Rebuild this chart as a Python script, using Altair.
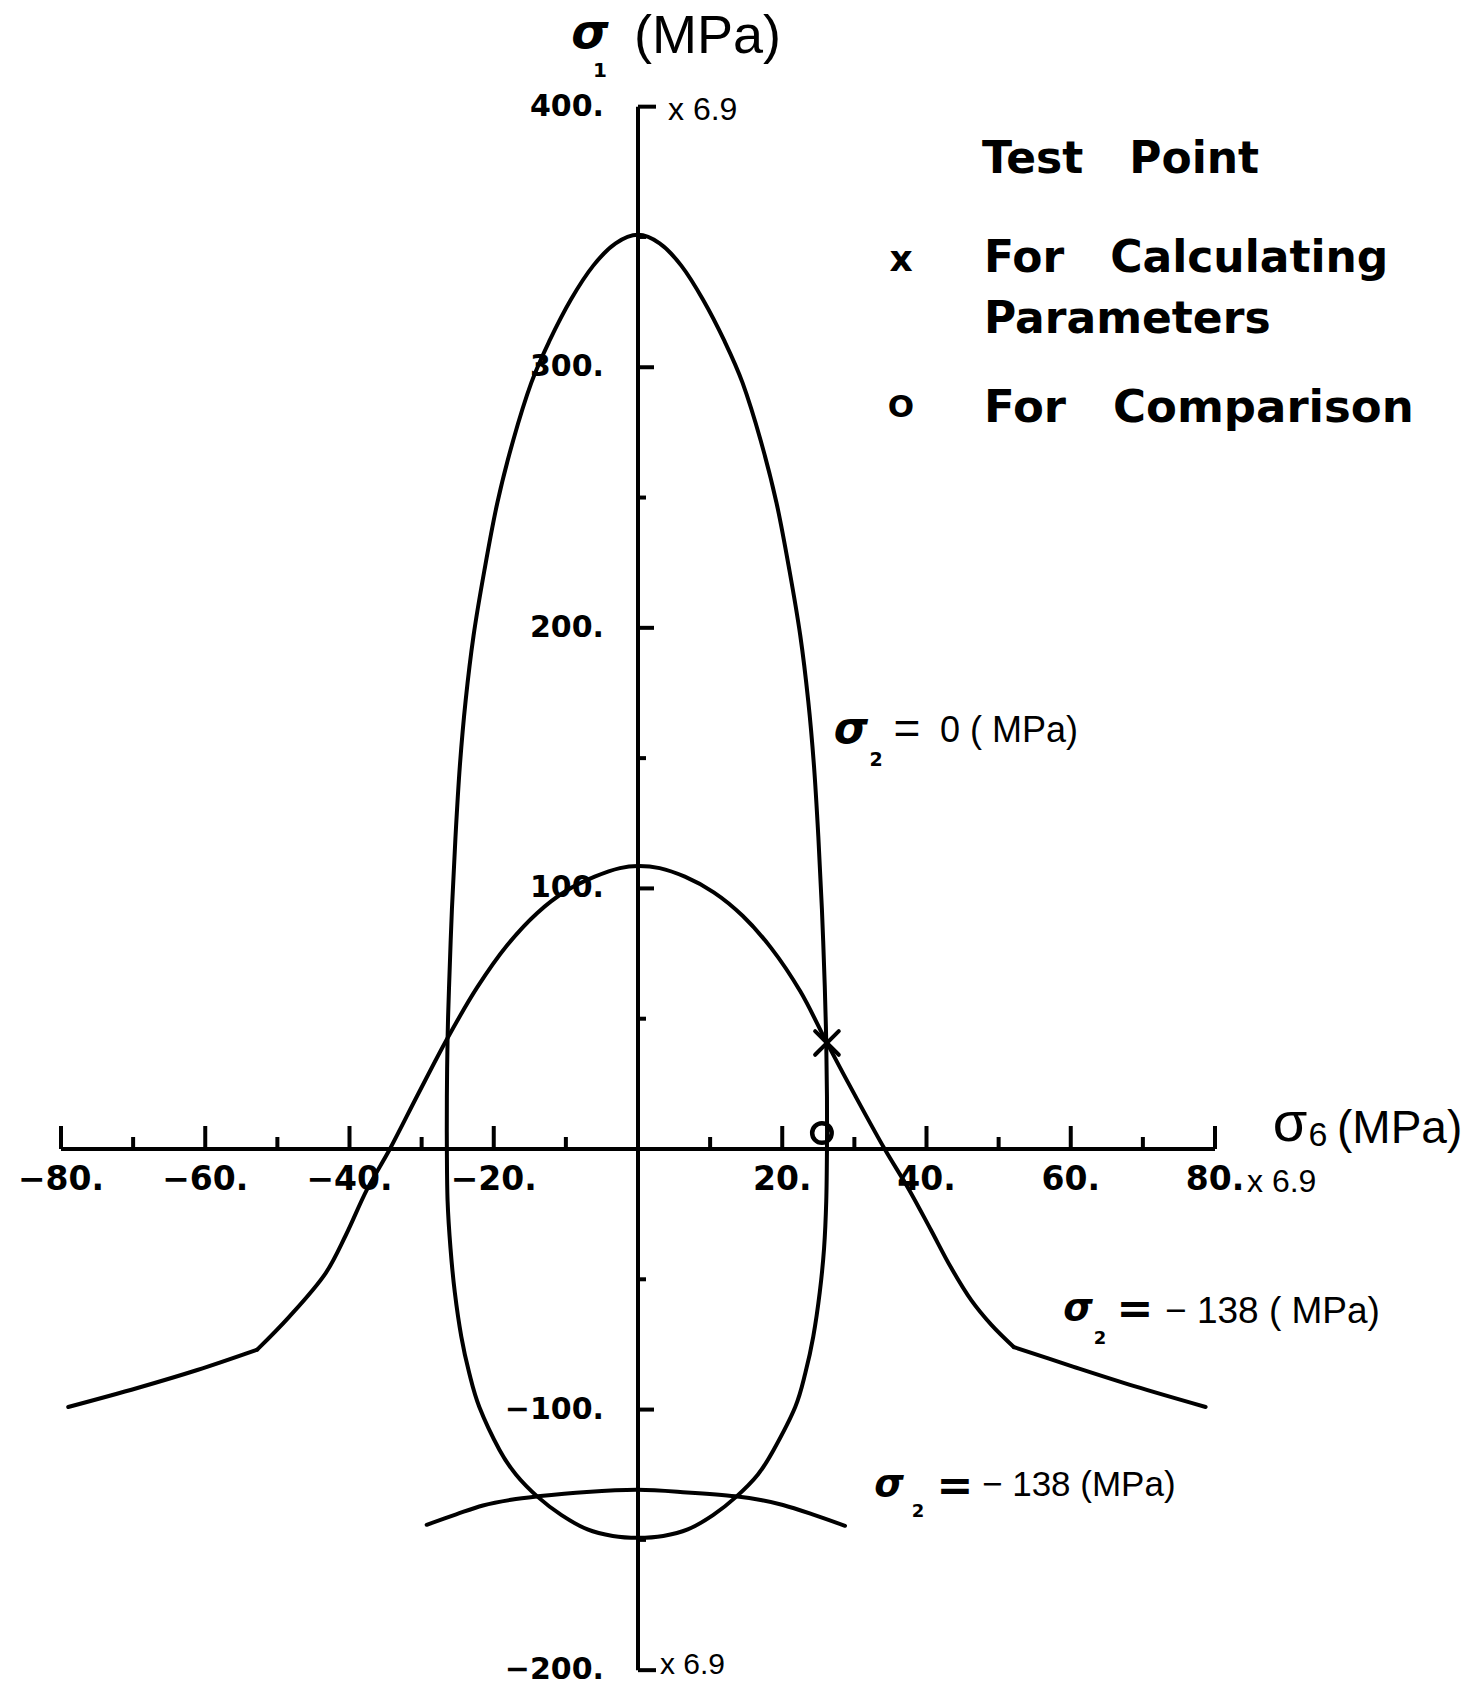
import altair as alt
import pandas as pd

# ---------------------------------------------------------------------------
# Data (stresses in units of 6.9 MPa)
# ---------------------------------------------------------------------------

# sigma_2 = 0 MPa envelope: one closed loop, clockwise from the top peak
loop0_x = [0.0, 3.0, 6.0, 9.0, 12.0, 14.5, 17.0, 19.2, 21.0, 22.5, 23.6, 24.4,
           25.0, 25.5, 25.9, 26.1, 26.2, 26.2,
           26.1, 25.8, 25.2, 24.3, 23.2, 21.8, 18.8, 16.6, 13.6, 10.4, 6.9, 3.5,
           0.0,
           -3.5, -7.0, -10.6, -13.9, -16.9, -19.2, -22.0, -23.4, -24.5, -25.4,
           -26.0, -26.4, -26.5,
           -26.5, -26.4, -26.2, -25.8, -25.3, -24.7, -23.9, -22.8, -21.3, -19.5,
           -17.3, -14.8, -12.3, -9.3, -6.2, -3.1]
loop0_y = [350.8, 347.5, 339.0, 326.0, 310.0, 294.0, 272.0, 248.0, 222.0, 197.0,
           172.0, 147.0, 120.0, 92.0, 62.0, 40.7, 20.0, 0.0,
           -20.0, -38.0, -55.0, -72.0, -86.0, -99.0, -115.5, -125.0, -133.5,
           -140.5, -146.0, -148.5,
           -149.2,
           -148.5, -146.0, -140.5, -133.5, -125.0, -115.5, -99.0, -86.0, -72.0,
           -55.0, -38.0, -20.0, 0.0,
           20.0, 42.6, 62.0, 92.0, 120.0, 147.0, 172.0, 197.0, 222.0, 248.0,
           272.0, 294.0, 310.0, 326.0, 339.0, 347.5]

# sigma_2 = -138 MPa envelope, upper branch: left tail, bell, right tail
tail_left_x = [-79.0, -69.4, -61.1, -52.8]
tail_left_y = [-99.0, -91.7, -84.8, -77.0]
bell_x = [-52.8, -48.4, -43.3, -40.5, -37.6, -34.4, -30.5, -26.4, -22.3, -18.2,
          -14.0, -10.0, -6.0, -2.5, 0.0, 3.0, 6.5, 10.5, 14.5, 18.5, 22.5, 26.2,
          30.2, 34.2, 37.6, 40.6, 43.4, 46.2, 49.0, 52.1]
bell_y = [-77.0, -64.5, -47.6, -33.0, -15.7, 0.0, 21.0, 42.6, 62.0, 78.0,
          90.5, 99.0, 104.5, 107.8, 108.6, 107.8, 104.5, 98.5, 89.5, 77.0, 60.5,
          40.7, 20.0, 0.0, -15.7, -31.0, -45.5, -58.0, -67.5, -76.0]
tail_right_x = [52.1, 60.3, 68.8, 78.7]
tail_right_y = [-76.0, -83.5, -91.0, -99.0]

# sigma_2 = -138 MPa envelope, lower branch
arc_x = [-29.3, -25.2, -21.5, -17.6, -13.9, -7.1, 0.0, 6.8, 13.5, 17.2, 20.1,
         24.4, 28.7]
arc_y = [-144.2, -140.2, -136.8, -134.6, -133.3, -131.6, -130.8, -131.8, -133.3,
         -134.8, -136.6, -140.4, -144.6]

# test points
calc_point = {"x": [26.2], "y": [40.7]}   # used for calculating parameters
comp_point = {"x": [25.5], "y": [6.1]}    # used for comparison

# axis ticks and labels
x_tick_values = [-80, -70, -60, -50, -40, -30, -20, -10, 10, 20, 30, 40, 50, 60, 70, 80]
x_label_values = [-80, -60, -40, -20, 20, 40, 60, 80]
x_label_text = ["\u221280.", "\u221260.", "\u221240.", "\u221220.", "20.", "40.", "60.", "80."]
y_tick_values = [350, 300, 250, 200, 150, 100, 50, -50, -100, -150]
y_label_values = [400, 300, 200, 100, -100, -200]
y_label_text = ["400.", "300.", "200.", "100.", "\u2212100.", "\u2212200."]

# ---------------------------------------------------------------------------
# Layout: the plot area fills the page; the axes cross at the origin
# ---------------------------------------------------------------------------
W, H = 1480, 1686
ORIGIN_PX = (638.0, 1149.0)
PX_PER_X = 1154.0 / 160.0
PX_PER_Y = 1563.5 / 600.0
x_dom = [-ORIGIN_PX[0] / PX_PER_X, (W - ORIGIN_PX[0]) / PX_PER_X]
y_dom = [-(H - ORIGIN_PX[1]) / PX_PER_Y, ORIGIN_PX[1] / PX_PER_Y]

xs = alt.Scale(domain=x_dom, nice=False, zero=False)
ys = alt.Scale(domain=y_dom, nice=False, zero=False)
X = lambda f="x": alt.X(f"{f}:Q", scale=xs, axis=None)
Y = lambda f="y": alt.Y(f"{f}:Q", scale=ys, axis=None)

INK = "#000000"
CURVE_W = 4.0

# axis lines and tick marks as line segments
seg_rows = [
    {"x": -80, "x2": 80, "y": 0, "y2": 0},
    {"x": 0, "x2": 0, "y": -200, "y2": 400},
    {"x": 0, "x2": 18 / PX_PER_X, "y": 400, "y2": 400},
    {"x": 0, "x2": 18 / PX_PER_X, "y": -200, "y2": -200},
]
for v in x_tick_values:
    length = (23 if v % 20 == 0 else 12) / PX_PER_Y
    seg_rows.append({"x": v, "x2": v, "y": 0, "y2": length})
for v in y_tick_values:
    length = (16 if v % 100 == 0 else 8) / PX_PER_X
    seg_rows.append({"x": 0, "x2": length, "y": v, "y2": v})
segs = pd.DataFrame(seg_rows)

axes = alt.Chart(segs).mark_rule(color=INK, strokeWidth=4).encode(
    x=X(), x2="x2:Q", y=Y(), y2="y2:Q"
)

loop0 = pd.DataFrame({"x": loop0_x, "y": loop0_y, "i": range(len(loop0_x))})
curve0 = alt.Chart(loop0).mark_line(
    color=INK, strokeWidth=CURVE_W, interpolate="cardinal-closed", strokeJoin="round"
).encode(x=X(), y=Y(), order="i:Q")

parts = []
for name, px, py in [("left", tail_left_x, tail_left_y),
                     ("bell", bell_x, bell_y),
                     ("right", tail_right_x, tail_right_y)]:
    parts.append(pd.DataFrame({"x": px, "y": py, "part": name, "i": range(len(px))}))
upper138 = pd.concat(parts, ignore_index=True)
curve138 = alt.Chart(upper138).mark_line(
    color=INK, strokeWidth=CURVE_W, interpolate="catmull-rom", strokeCap="round"
).encode(x=X(), y=Y(), detail="part:N", order="i:Q")

arc = pd.DataFrame({"x": arc_x, "y": arc_y, "i": range(len(arc_x))})
curve_arc = alt.Chart(arc).mark_line(
    color=INK, strokeWidth=CURVE_W, interpolate="catmull-rom", strokeCap="round"
).encode(x=X(), y=Y(), order="i:Q")

cross = alt.Chart(pd.DataFrame(calc_point)).mark_point(
    shape="M-1,-1L1,1M1,-1L-1,1", filled=False, color=INK, opacity=1,
    strokeWidth=4, size=560, strokeCap="round"
).encode(x=X(), y=Y())

ring = alt.Chart(pd.DataFrame(comp_point)).mark_point(
    shape="circle", filled=False, color=INK, opacity=1, strokeWidth=4.5, size=380
).encode(x=X(), y=Y())

xlab = alt.Chart(pd.DataFrame({"x": x_label_values, "y": 0, "t": x_label_text})).mark_text(
    font="DejaVu Sans", fontWeight="bold", fontSize=33, color=INK,
    align="center", baseline="middle", dy=31
).encode(x=X(), y=Y(), text="t:N")

ylab = alt.Chart(pd.DataFrame({"x": 0, "y": y_label_values, "t": y_label_text})).mark_text(
    font="DejaVu Sans", fontWeight="bold", fontSize=30, color=INK,
    align="right", baseline="middle", dx=-34
).encode(x=X(), y=Y(), text="t:N")


def note(text, px, py, size, font="Liberation Sans", weight="normal",
         style="normal", align="left"):
    return alt.Chart(pd.DataFrame({"t": [text]})).mark_text(
        font=font, fontSize=size, fontWeight=weight, fontStyle=style,
        align=align, baseline="middle", color=INK
    ).encode(x=alt.value(px), y=alt.value(py), text="t:N")


NB = "\u00a0"
notes = [
    # vertical axis title
    note("\u03c3", 590, 34, 48, font="DejaVu Sans", weight="bold", style="italic", align="center"),
    note("1", 600, 71, 20, font="DejaVu Sans", weight="bold", align="center"),
    note("(MPa)", 634, 37, 54),
    # unit multipliers
    note("x 6.9", 668, 110, 32),
    note("x 6.9", 660, 1665, 30),
    note("x 6.9", 1247, 1182, 32),
    # horizontal axis title
    note("\u03c3", 1290, 1124, 56, align="center"),
    note("6", 1318, 1136, 34, align="center"),
    note("(MPa)", 1337, 1129, 46),
    # curve labels
    note("\u03c3", 851, 730, 44, font="DejaVu Sans", weight="bold", style="italic", align="center"),
    note("2", 876, 760, 19, font="DejaVu Sans", weight="bold", align="center"),
    note("=", 907, 730, 46, align="center"),
    note("0 ( MPa)", 940, 731, 36),
    note("\u03c3", 1078, 1309, 38, font="DejaVu Sans", weight="bold", style="italic", align="center"),
    note("2", 1100, 1339, 18, font="DejaVu Sans", weight="bold", align="center"),
    note("=", 1135, 1310, 44, font="DejaVu Sans", weight="bold", align="center"),
    note("\u2212 138 ( MPa)", 1165, 1312, 37),
    note("\u03c3", 889, 1485, 38, font="DejaVu Sans", weight="bold", style="italic", align="center"),
    note("2", 918, 1512, 18, font="DejaVu Sans", weight="bold", align="center"),
    note("=", 955, 1487, 44, font="DejaVu Sans", weight="bold", align="center"),
    note("\u2212 138 (MPa)", 982, 1485, 35),
    # legend
    note(f"Test{NB}{NB}{NB}Point", 982, 160, 44, font="DejaVu Sans", weight="bold"),
    note("x", 901, 260, 36, font="DejaVu Sans", weight="bold", align="center"),
    note(f"For{NB}{NB}{NB}Calculating", 984, 259, 44, font="DejaVu Sans", weight="bold"),
    note("Parameters", 984, 320, 44, font="DejaVu Sans", weight="bold"),
    note("O", 901, 408, 31, font="DejaVu Sans", weight="bold", align="center"),
    note(f"For{NB}{NB}{NB}Comparison", 984, 408, 45, font="DejaVu Sans", weight="bold"),
]

chart = alt.layer(
    axes, curve0, curve138, curve_arc, cross, ring, xlab, ylab, *notes
).properties(
    width=W, height=H,
    autosize=alt.AutoSizeParams(type="none"),
    padding=0,
    background="white",
).configure_view(stroke=None)

chart.save("out.html", embed_options={"renderer": "svg", "actions": False})
